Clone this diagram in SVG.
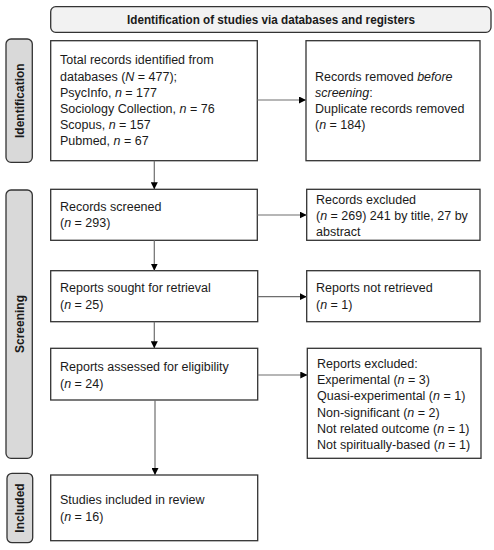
<svg xmlns="http://www.w3.org/2000/svg" width="494" height="550" viewBox="0 0 494 550">
<defs>
<marker id="ah" viewBox="0 0 10 10" refX="10" refY="5" markerWidth="7" markerHeight="7" markerUnits="userSpaceOnUse" orient="auto">
<path d="M0,0 L10,5 L0,10 Z" fill="#000"/>
</marker>
</defs>
<style>
.box{fill:#fff;stroke:#333;stroke-width:1.3}
.title{fill:#f2f2f2;stroke:#333;stroke-width:1.3}
.side{fill:#d9d9d9;stroke:#333;stroke-width:1.3}
.t{font-family:"Liberation Sans",Arial,sans-serif;font-size:12.5px;fill:#1a1a1a}
.b{font-family:"Liberation Sans",Arial,sans-serif;font-size:12px;font-weight:bold;fill:#1a1a1a}
.conn{stroke:#6e6e6e;stroke-width:1.2;fill:none;marker-end:url(#ah)}
</style>
<rect width="494" height="550" fill="#fff"/>
<g id="header">
<rect class="title" x="50.7" y="6.7" width="440.3" height="25.6" rx="5"/>
<text class="b" x="271" y="24" text-anchor="middle" textLength="288" lengthAdjust="spacingAndGlyphs">Identification of studies via databases and registers</text>
</g>
<g id="lbl-identification">
<rect class="side" x="6" y="39" width="26.3" height="123.3" rx="5"/>
<text class="b" transform="translate(23.5,100.7) rotate(-90)" text-anchor="middle">Identification</text>
</g>
<g id="lbl-screening">
<rect class="side" x="6" y="190" width="26.3" height="268.3" rx="5"/>
<text class="b" transform="translate(23.5,324) rotate(-90)" text-anchor="middle">Screening</text>
</g>
<g id="lbl-included">
<rect class="side" x="7" y="473.3" width="25.7" height="69.4" rx="5"/>
<text class="b" transform="translate(24,508) rotate(-90)" text-anchor="middle">Included</text>
</g>
<g id="n-identified">
<rect class="box" x="50.7" y="40.7" width="206.6" height="120"/>
<text class="t" x="60" y="64">Total records identified from</text>
<text class="t" x="60" y="80.5">databases (<tspan font-style="italic">N</tspan> = 477);</text>
<text class="t" x="60" y="96.5">PsycInfo, <tspan font-style="italic">n</tspan> = 177</text>
<text class="t" x="60" y="112.5">Sociology Collection, <tspan font-style="italic">n</tspan> = 76</text>
<text class="t" x="60" y="128.5">Scopus, <tspan font-style="italic">n</tspan> = 157</text>
<text class="t" x="60" y="144.5">Pubmed, <tspan font-style="italic">n</tspan> = 67</text>
</g>
<g id="n-removed">
<rect class="box" x="306" y="40.7" width="174" height="120"/>
<text class="t" x="315" y="80.5">Records removed <tspan font-style="italic">before</tspan></text>
<text class="t" x="315" y="96.5"><tspan font-style="italic">screening</tspan>:</text>
<text class="t" x="315" y="112.5">Duplicate records removed</text>
<text class="t" x="315" y="128.5">(<tspan font-style="italic">n</tspan> = 184)</text>
</g>
<g id="n-screened">
<rect class="box" x="50.7" y="189.3" width="206.6" height="51"/>
<text class="t" x="60" y="210.5">Records screened</text>
<text class="t" x="60" y="227">(<tspan font-style="italic">n</tspan> = 293)</text>
</g>
<g id="n-excluded1">
<rect class="box" x="306.7" y="189.3" width="173.3" height="51"/>
<text class="t" x="316" y="203.5">Records excluded</text>
<text class="t" x="316" y="219.5">(<tspan font-style="italic">n</tspan> = 269) 241 by title, 27 by</text>
<text class="t" x="316" y="235.5">abstract</text>
</g>
<g id="n-sought">
<rect class="box" x="50.7" y="270.7" width="207" height="51"/>
<text class="t" x="60" y="292">Reports sought for retrieval</text>
<text class="t" x="60" y="308.5">(<tspan font-style="italic">n</tspan> = 25)</text>
</g>
<g id="n-notretrieved">
<rect class="box" x="306.7" y="270.7" width="173.3" height="51"/>
<text class="t" x="316" y="292">Reports not retrieved</text>
<text class="t" x="316" y="308.5">(<tspan font-style="italic">n</tspan> = 1)</text>
</g>
<g id="n-assessed">
<rect class="box" x="50.7" y="348.3" width="207" height="51.7"/>
<text class="t" x="60" y="371">Reports assessed for eligibility</text>
<text class="t" x="60" y="388">(<tspan font-style="italic">n</tspan> = 24)</text>
</g>
<g id="n-excluded2">
<rect class="box" x="307.3" y="348.3" width="173.7" height="110"/>
<text class="t" x="317" y="368">Reports excluded:</text>
<text class="t" x="317" y="384">Experimental (<tspan font-style="italic">n</tspan> = 3)</text>
<text class="t" x="317" y="400">Quasi-experimental (<tspan font-style="italic">n</tspan> = 1)</text>
<text class="t" x="317" y="416.5">Non-significant (<tspan font-style="italic">n</tspan> = 2)</text>
<text class="t" x="317" y="432.5">Not related outcome (<tspan font-style="italic">n</tspan> = 1)</text>
<text class="t" x="317" y="448.5">Not spiritually-based (<tspan font-style="italic">n</tspan> = 1)</text>
</g>
<g id="n-included">
<rect class="box" x="50.7" y="475" width="207" height="65.7"/>
<text class="t" x="60" y="503.5">Studies included in review</text>
<text class="t" x="60" y="520.5">(<tspan font-style="italic">n</tspan> = 16)</text>
</g>
<g id="connectors">
<line class="conn" x1="257.3" y1="100" x2="306" y2="100"/>
<line class="conn" x1="154.3" y1="160.7" x2="154.3" y2="189.3"/>
<line class="conn" x1="257.3" y1="215" x2="306.7" y2="215"/>
<line class="conn" x1="154.3" y1="240.3" x2="154.3" y2="270.7"/>
<line class="conn" x1="257.7" y1="296.7" x2="306.7" y2="296.7"/>
<line class="conn" x1="154.3" y1="321.7" x2="154.3" y2="348.3"/>
<line class="conn" x1="257.7" y1="375" x2="307.3" y2="375"/>
<line class="conn" x1="155" y1="400" x2="155" y2="475"/>
</g>
</svg>
